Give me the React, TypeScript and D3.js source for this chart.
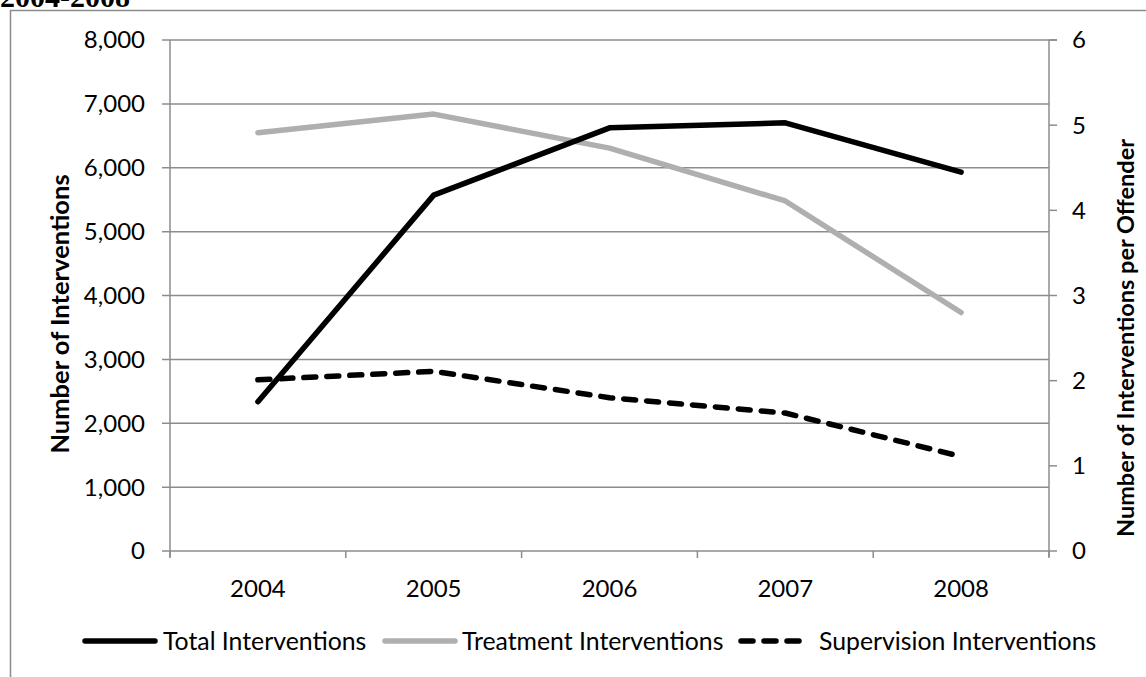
import React from "react";
import * as d3 from "d3";

const years = ["2004", "2005", "2006", "2007", "2008"];
const totalInterventions = [2337, 5571, 6625, 6703, 5931];
const treatmentPerOffender = [4.91, 5.13, 4.73, 4.11, 2.8];
const supervisionPerOffender = [2.01, 2.11, 1.8, 1.62, 1.11];
const leftTicks = [0, 1000, 2000, 3000, 4000, 5000, 6000, 7000, 8000];
const rightTicks = [0, 1, 2, 3, 4, 5, 6];
const legendItems = ["Total Interventions", "Treatment Interventions", "Supervision Interventions"];

const W = 1146;
const H = 677;
const plot = { left: 170, right: 1049, top: 40, bottom: 551 };
const FONT = "Lato, 'Open Sans', sans-serif";
const GRID = "#8c8c8c";

export default function App() {
  const x = d3.scaleBand<string>().domain(years).range([plot.left, plot.right]);
  const cx = (d: string) => (x(d) as number) + x.bandwidth() / 2;
  const yL = d3.scaleLinear().domain([0, 8000]).range([plot.bottom, plot.top]);
  const yR = d3.scaleLinear().domain([0, 6]).range([plot.bottom, plot.top]);
  const lineL = d3.line<number>().x((_, i) => cx(years[i])).y((v) => yL(v));
  const lineR = d3.line<number>().x((_, i) => cx(years[i])).y((v) => yR(v));
  const fmt = d3.format(",");
  const boundaries = [...years.map((y) => x(y) as number), plot.right];

  const legendY = 641;
  const legend = [
    { x1: 85, x2: 155, tx: 163, stroke: "#000", dash: undefined as string | undefined },
    { x1: 385, x2: 455, tx: 462, stroke: "#afafaf", dash: undefined },
    { x1: 741, x2: 808, tx: 819, stroke: "#000", dash: "12,11" },
  ];

  return (
    <svg width={W} height={H} style={{ position: "absolute", left: 0, top: 0, background: "#fff" }}>
      <rect x={0} y={0} width={W} height={H} fill="#fff" />
      <text x={0} y={7} fontFamily="'Liberation Serif', 'Times New Roman', serif" fontWeight="bold" fontSize={30} fill="#000">
        2004-2008
      </text>
      <rect x={10.5} y={10.5} width={W + 20} height={H + 20} fill="none" stroke={GRID} strokeWidth={1.5} />

      {leftTicks.map((t) => (
        <g key={"l" + t}>
          <line x1={plot.left - 8} x2={plot.right} y1={yL(t)} y2={yL(t)} stroke={GRID} strokeWidth={1.5} />
          <text x={145} y={yL(t)} dy="0.35em" textAnchor="end" fontFamily={FONT} fontSize={24} fill="#000">
            {fmt(t)}
          </text>
        </g>
      ))}
      <line x1={plot.right} x2={plot.right + 8} y1={yL(8000)} y2={yL(8000)} stroke={GRID} strokeWidth={1.5} />
      <line x1={plot.left} x2={plot.left} y1={plot.top} y2={plot.bottom + 6} stroke={GRID} strokeWidth={1.5} />
      <line x1={plot.right} x2={plot.right} y1={plot.top} y2={plot.bottom + 6} stroke={GRID} strokeWidth={1.5} />
      {rightTicks.map((t) => (
        <g key={"r" + t}>
          <line x1={plot.right} x2={plot.right + 8} y1={yR(t)} y2={yR(t)} stroke={GRID} strokeWidth={1.5} />
          <text x={1072} y={yR(t)} dy="0.35em" textAnchor="start" fontFamily={FONT} fontSize={24} fill="#000">
            {t}
          </text>
        </g>
      ))}
      {boundaries.map((b, i) => (
        <line key={"b" + i} x1={b} x2={b} y1={plot.bottom} y2={plot.bottom + 7} stroke={GRID} strokeWidth={1.5} />
      ))}
      {years.map((y) => (
        <text key={y} x={cx(y)} y={597} textAnchor="middle" fontFamily={FONT} fontSize={24} fill="#000">
          {y}
        </text>
      ))}

      <text
        transform={`translate(69,314) rotate(-90)`}
        textAnchor="middle"
        fontFamily={FONT}
        fontWeight="bold"
        fontSize={25.5}
        fill="#000"
      >
        Number of Interventions
      </text>
      <text
        transform={`translate(1134,338) rotate(-90)`}
        textAnchor="middle"
        fontFamily={FONT}
        fontWeight="bold"
        fontSize={23.5}
        fill="#000"
      >
        Number of Interventions per Offender
      </text>

      <path d={lineR(treatmentPerOffender) as string} fill="none" stroke="#afafaf" strokeWidth={5.5} strokeLinecap="round" strokeLinejoin="round" />
      <path d={lineL(totalInterventions) as string} fill="none" stroke="#000" strokeWidth={5.5} strokeLinecap="round" strokeLinejoin="round" />
      <path d={lineR(supervisionPerOffender) as string} fill="none" stroke="#000" strokeWidth={5.5} strokeDasharray="12,11" strokeLinecap="round" strokeLinejoin="round" />

      {legendItems.map((name, i) => (
        <g key={name}>
          <line x1={legend[i].x1} x2={legend[i].x2} y1={legendY} y2={legendY} stroke={legend[i].stroke} strokeWidth={5.5} strokeDasharray={legend[i].dash} strokeLinecap="round" />
          <text x={legend[i].tx} y={legendY} dy="0.35em" fontFamily={FONT} fontSize={24.8} fill="#000">
            {name}
          </text>
        </g>
      ))}
    </svg>
  );
}
